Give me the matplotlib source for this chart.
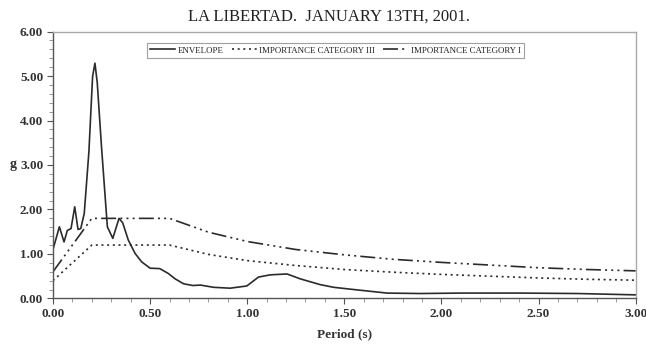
import matplotlib
matplotlib.use("Agg")
import matplotlib.pyplot as plt
from matplotlib.ticker import MultipleLocator, FormatStrFormatter

# envelope spectrum
env_T = [0.00, 0.033, 0.057, 0.074, 0.093, 0.112, 0.129, 0.143, 0.161, 0.185,
         0.204, 0.216, 0.228, 0.250, 0.280, 0.308, 0.340, 0.359, 0.388, 0.423,
         0.457, 0.500, 0.550, 0.594, 0.629, 0.672, 0.720, 0.760, 0.826, 0.912,
         0.998, 1.058, 1.118, 1.205, 1.273, 1.376, 1.445, 1.548, 1.720, 1.890,
         2.100, 2.410, 2.700, 3.000]
env_Sa = [1.10, 1.61, 1.27, 1.53, 1.57, 2.06, 1.55, 1.57, 1.91, 3.30,
          4.99, 5.29, 4.85, 3.40, 1.61, 1.35, 1.80, 1.70, 1.31, 1.01,
          0.82, 0.68, 0.67, 0.56, 0.44, 0.33, 0.29, 0.30, 0.25, 0.23,
          0.28, 0.48, 0.53, 0.55, 0.44, 0.31, 0.25, 0.20, 0.12, 0.11,
          0.12, 0.12, 0.11, 0.08]

# design spectra
des_T = [0.0, 0.2, 0.6, 0.8, 1.0, 1.25, 1.5, 1.75, 2.0, 2.25, 2.5, 2.75, 3.0]
cat3_Sa = [0.40, 1.20, 1.20, 0.99, 0.85, 0.74, 0.65, 0.59, 0.54, 0.50, 0.46, 0.43, 0.41]
cat1_Sa = [0.60, 1.80, 1.80, 1.49, 1.28, 1.10, 0.98, 0.88, 0.81, 0.75, 0.69, 0.65, 0.62]

font_serif = ['Liberation Serif', 'DejaVu Serif']
plt.rcParams['font.family'] = font_serif

fig = plt.figure(figsize=(6.46, 3.47), dpi=100)
ax = fig.add_axes([0.082, 0.140, 0.902, 0.769])

lc = "#2b2b2b"
ax.plot(env_T, env_Sa, "-", color=lc, lw=1.2, label="ENVELOPE")
ax.plot(des_T, cat3_Sa, color=lc, lw=1.2, dashes=(1.2, 2.2), label="IMPORTANCE CATEGORY III")
ax.plot(des_T, cat1_Sa, color=lc, lw=1.2, dashes=(9, 2.5, 1.2, 2.5, 1.2, 2.5, 1.2, 2.5),
        label="IMPORTANCE CATEGORY I")

ax.set_xlim(0, 3)
ax.set_ylim(0, 6)
ax.xaxis.set_major_locator(MultipleLocator(0.5))
ax.xaxis.set_minor_locator(MultipleLocator(0.1))
ax.yaxis.set_major_locator(MultipleLocator(1))
ax.yaxis.set_minor_locator(MultipleLocator(0.2))
ax.xaxis.set_major_formatter(FormatStrFormatter("%.2f"))
ax.yaxis.set_major_formatter(FormatStrFormatter("%.2f"))
ax.tick_params(which="major", direction="out", length=4, width=0.8, color="#555555",
               labelsize=9.5, pad=3)
ax.tick_params(which="minor", direction="out", length=3, width=0.6, color="#888888")
for lab in ax.get_xticklabels() + ax.get_yticklabels():
    lab.set_fontweight("bold")
    lab.set_color("#333333")

for s in ["left", "bottom"]:
    ax.spines[s].set_color("#555555")
    ax.spines[s].set_linewidth(1.0)
for s in ["top", "right"]:
    ax.spines[s].set_color("#aaaaaa")
    ax.spines[s].set_linewidth(1.0)

ax.set_title("LA LIBERTAD.  JANUARY 13TH, 2001.", fontsize=12, color="#222222", pad=8,
             x=0.474)
ax.set_xlabel("Period (s)", fontsize=9.5, fontweight="bold", color="#333333", labelpad=6)
ax.set_ylabel("g", fontsize=10, fontweight="bold", rotation=0, color="#333333",
              va="center")
ax.yaxis.set_label_coords(-0.068, 0.50)

leg = ax.legend(loc="upper center", bbox_to_anchor=(0.485, 0.958), ncol=3, fontsize=6.4,
                frameon=True, fancybox=False, handlelength=2.8, handletextpad=0.3,
                columnspacing=0.9, borderpad=0.4, borderaxespad=0)
leg.get_frame().set_edgecolor("#888888")
leg.get_frame().set_linewidth(0.8)
for t in leg.get_texts():
    t.set_color("#222222")

fig.savefig("out.png", dpi=100)
